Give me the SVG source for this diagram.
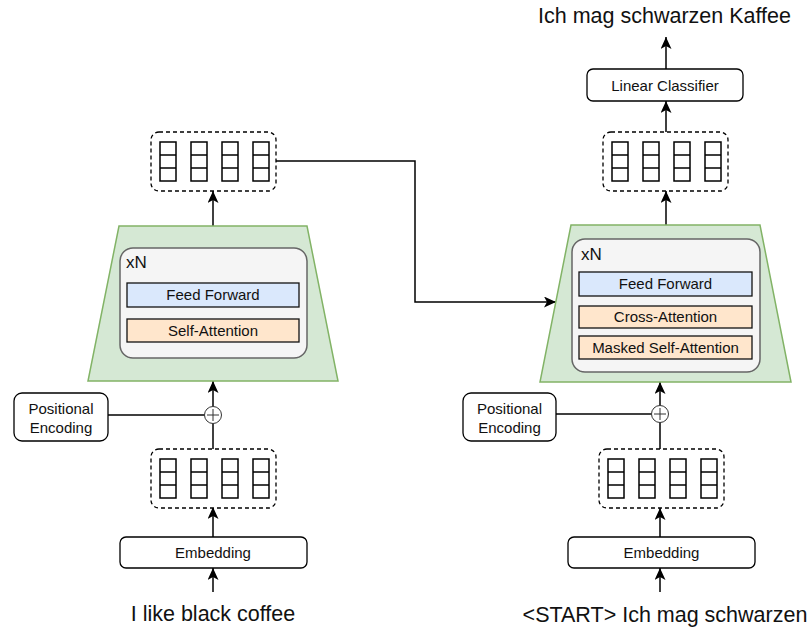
<svg xmlns="http://www.w3.org/2000/svg" xmlns:xlink="http://www.w3.org/1999/xlink" width="811" height="627" viewBox="0 0 811 627">
<style>
text{font-family:"Liberation Sans",Arial,sans-serif;fill:#111;}
.lbl{font-size:15px;text-anchor:middle;}
.big{font-size:21.5px;text-anchor:middle;}
.xn{font-size:17px;}
.box{fill:#fff;stroke:#000;stroke-width:1.3;}
.trap{fill:#d5e8d4;stroke:#82b366;stroke-width:1.5;}
.inner{fill:#f5f5f5;stroke:#666;stroke-width:1.5;}
.ff{fill:#dae8fc;stroke:#111;stroke-width:1.3;}
.att{fill:#ffe6cc;stroke:#111;stroke-width:1.3;}
.dash{fill:#fff;stroke:#000;stroke-width:1.3;stroke-dasharray:4 3;}
.cell{fill:none;stroke:#000;stroke-width:1.5;}
.con{fill:none;stroke:#000;stroke-width:1.5;}
.arr{marker-end:url(#ah);}
.plus{fill:#fff;stroke:#333;stroke-width:1;}
</style>
<defs>
<marker id="ah" markerUnits="userSpaceOnUse" markerWidth="12" markerHeight="11" viewBox="0 0 12 11" refX="12" refY="5.5" orient="auto">
<path d="M0,0 L12,5.5 L0,11 L3,5.5 Z" fill="#000"/>
</marker>
<g id="col">
<rect class="cell" x="0" y="0" width="16" height="39"/>
<path class="cell" d="M0,13 H16 M0,26 H16"/>
</g>
<g id="vec">
<rect class="dash" x="0" y="0" width="125" height="59" rx="8"/>
<use xlink:href="#col" x="9" y="10"/>
<use xlink:href="#col" x="40" y="10"/>
<use xlink:href="#col" x="71" y="10"/>
<use xlink:href="#col" x="102" y="10"/>
</g>
</defs>
<rect width="811" height="627" fill="#fff"/>

<g id="connectors">
<path class="con arr" d="M213,592 V568"/>
<path class="con arr" d="M213,537 V507"/>
<path class="con" d="M213,449 V423.5"/>
<path class="con" d="M108,415 H204.5"/>
<path class="con arr" d="M213,406.5 V381"/>
<path class="con arr" d="M213,226 V191"/>
<path class="con arr" d="M276,161 H415 V302 H556"/>
<path class="con arr" d="M660,592 V568"/>
<path class="con arr" d="M660,537 V508"/>
<path class="con" d="M660,449 V422.5"/>
<path class="con" d="M556,414 H651.5"/>
<path class="con arr" d="M660,405.5 V382"/>
<path class="con arr" d="M666,225 V191"/>
<path class="con arr" d="M666,132 V101"/>
<path class="con arr" d="M666,69 V37"/>
</g>

<g id="enc-input"><text class="big" x="213" y="621">I like black coffee</text></g>
<g id="enc-embedding">
<rect class="box" x="120" y="537" width="187" height="31" rx="6"/>
<text class="lbl" x="213" y="558">Embedding</text>
</g>
<g id="enc-emb-vectors"><use xlink:href="#vec" x="151" y="449"/></g>
<g id="enc-pos-enc">
<rect class="box" x="14" y="393" width="94" height="48" rx="8"/>
<text class="lbl" x="61" y="414">Positional</text>
<text class="lbl" x="61" y="433">Encoding</text>
</g>
<g id="enc-add">
<circle class="plus" cx="213" cy="415" r="8.5"/>
<path d="M207,415 H219 M213,409 V421" stroke="#333" stroke-width="1"/>
</g>
<g id="encoder">
<path class="trap" d="M119,226 H307 L338,381 H88 Z"/>
<rect class="inner" x="120" y="248" width="187" height="110" rx="13"/>
<text class="xn" x="126" y="268">xN</text>
<rect class="ff" x="127" y="283" width="172" height="24"/>
<text class="lbl" x="213" y="300">Feed Forward</text>
<rect class="att" x="127" y="319" width="172" height="23"/>
<text class="lbl" x="213" y="336">Self-Attention</text>
</g>
<g id="enc-out-vectors"><use xlink:href="#vec" x="151" y="132"/></g>

<g id="dec-input"><text class="big" x="665" y="622">&lt;START&gt; Ich mag schwarzen</text></g>
<g id="dec-embedding">
<rect class="box" x="568" y="537" width="187" height="31" rx="6"/>
<text class="lbl" x="661.5" y="558">Embedding</text>
</g>
<g id="dec-emb-vectors"><use xlink:href="#vec" x="599" y="449"/></g>
<g id="dec-pos-enc">
<rect class="box" x="463" y="393" width="93" height="48" rx="8"/>
<text class="lbl" x="509.5" y="414">Positional</text>
<text class="lbl" x="509.5" y="433">Encoding</text>
</g>
<g id="dec-add">
<circle class="plus" cx="660" cy="414" r="8.5"/>
<path d="M654,414 H666 M660,408 V420" stroke="#333" stroke-width="1"/>
</g>
<g id="decoder">
<path class="trap" d="M571,225 H760 L791,382 H540 Z"/>
<rect class="inner" x="572" y="239" width="188" height="133" rx="13"/>
<text class="xn" x="581" y="260">xN</text>
<rect class="ff" x="579" y="272" width="173" height="24"/>
<text class="lbl" x="665.5" y="289">Feed Forward</text>
<rect class="att" x="579" y="306" width="173" height="22"/>
<text class="lbl" x="665.5" y="322">Cross-Attention</text>
<rect class="att" x="579" y="336" width="173" height="23"/>
<text class="lbl" x="665.5" y="353">Masked Self-Attention</text>
</g>
<g id="dec-out-vectors"><use xlink:href="#vec" x="603" y="132"/></g>
<g id="linear-classifier">
<rect class="box" x="587" y="69" width="156" height="32" rx="6"/>
<text class="lbl" x="665" y="91">Linear Classifier</text>
</g>
<g id="dec-output"><text class="big" x="664.5" y="23">Ich mag schwarzen Kaffee</text></g>
</svg>
